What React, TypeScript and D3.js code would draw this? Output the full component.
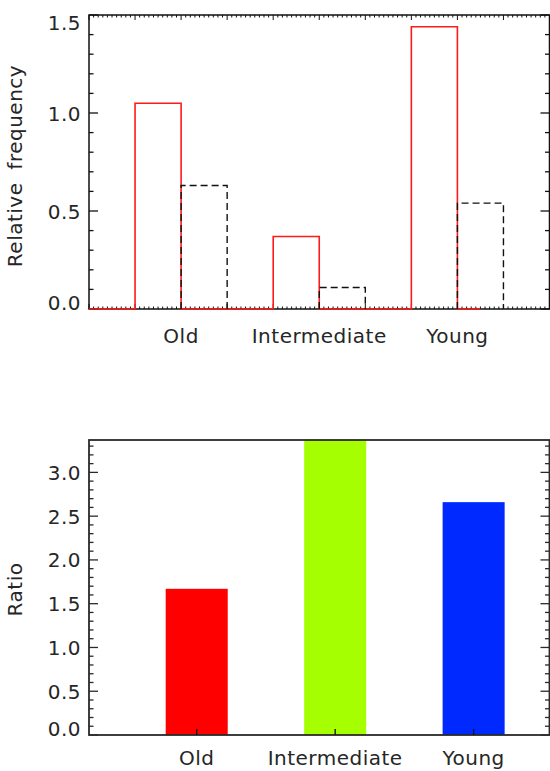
import React from 'react';
import * as d3 from 'd3';

// Age classes and where their labels sit on the histogram axis
const CATEGORIES = ['Old', 'Intermediate', 'Young'];
const CATEGORY_EDGES = [2, 5, 8];

// Histogram bins (unit width) and relative frequencies of the two samples
const BIN_STARTS = [0, 1, 2, 3, 4, 5, 6, 7, 8];
const RED_FREQ = [0, 1.05, 0, 0, 0.37, 0, 0, 1.44, 0];
const BLACK_FREQ = [0, 0, 0.63, 0, 0, 0.11, 0, 0, 0.54];
const RED_END = 8.5;
const HIST_X_DOMAIN = [0, 10];
const FREQ_TICKS = [0, 0.5, 1.0, 1.5];

// Ratio per age class
const RATIO = [1.67, 3.37, 2.66];
const RATIO_COLORS = ['#ff0000', '#a6ff00', '#0029ff'];
const RATIO_TICKS = [0, 0.5, 1.0, 1.5, 2.0, 2.5, 3.0];

const W = 550;
const H = 771;
const FONT = '"DejaVu Sans", sans-serif';
const TXT = '#262626';

const fmt = d3.format('.1f');

function YTicks({ y, ticks, minorStep, left, right, top, bottom, color, width }) {
  const [d0, d1] = y.domain();
  const minors = d3.range(Math.ceil(d0 / minorStep - 1e-6), Math.floor(d1 / minorStep + 1e-6) + 1)
    .map((k) => k * minorStep)
    .filter((v) => !ticks.some((t) => Math.abs(t - v) < 1e-6));
  const labelY = (v) => Math.min(Math.max(y(v), top + 7), bottom - 6.5) + 7.5;
  return (
    <g>
      {minors.map((v) => (
        <g key={'m' + v}>
          <line x1={left} x2={left + 4.5} y1={y(v)} y2={y(v)} stroke={color} strokeWidth={width} />
          <line x1={right} x2={right - 4.5} y1={y(v)} y2={y(v)} stroke={color} strokeWidth={width} />
        </g>
      ))}
      {ticks.map((v) => (
        <g key={'M' + v}>
          <line x1={left} x2={left + 9} y1={y(v)} y2={y(v)} stroke={color} strokeWidth={width} />
          <line x1={right} x2={right - 9} y1={y(v)} y2={y(v)} stroke={color} strokeWidth={width} />
          <text x={81} y={labelY(v)} textAnchor="end" fontSize={20} fontFamily={FONT} fill={TXT} letterSpacing={0.5}>
            {fmt(v)}
          </text>
        </g>
      ))}
    </g>
  );
}

function Histogram() {
  const left = 89, right = 549.5, top = 15, bottom = 309;
  const x = d3.scaleLinear().domain(HIST_X_DOMAIN).range([left, right]);
  const y = d3.scaleLinear().domain([0, 1.5]).range([bottom, top]);

  const redPts = BIN_STARTS.map((b, i) => [b, RED_FREQ[i]]).concat([[RED_END, 0]]);
  const redLine = d3.line().x((d) => x(d[0])).y((d) => y(d[1])).curve(d3.curveStepAfter);

  const minorX = d3.range(HIST_X_DOMAIN[0] * 10, HIST_X_DOMAIN[1] * 10 + 1).map((k) => k / 10);

  return (
    <g>
      {/* frame */}
      <rect x={left} y={top} width={right - left} height={bottom - top} fill="none" stroke="#111" strokeWidth={1.5} />
      {/* x ticks top and bottom */}
      {minorX.map((v) => {
        const major = Math.abs(v - Math.round(v)) < 1e-6;
        const len = major ? 5 : 2.5;
        return (
          <g key={'x' + v}>
            <line x1={x(v)} x2={x(v)} y1={top} y2={top + len} stroke="#111" strokeWidth={1} />
            <line x1={x(v)} x2={x(v)} y1={bottom} y2={bottom - len} stroke="#111" strokeWidth={1} />
          </g>
        );
      })}
      <YTicks y={y} ticks={FREQ_TICKS} minorStep={0.1} left={left} right={right} top={top} bottom={bottom} color="#111" width={1.3} />

      {/* red sample histogram */}
      <path d={redLine(redPts)} fill="none" stroke="#ff1a1a" strokeWidth={1.6} />
      {/* black sample histogram, dashed */}
      {BIN_STARTS.map((b, i) =>
        BLACK_FREQ[i] > 0 ? (
          <path
            key={'b' + i}
            d={`M${x(b)},${y(0)}V${y(BLACK_FREQ[i])}H${x(b + 1)}V${y(0)}`}
            fill="none"
            stroke="#111"
            strokeWidth={1.4}
            strokeDasharray="7,4"
          />
        ) : null
      )}

      {CATEGORIES.map((c, i) => (
        <text key={c} x={x(CATEGORY_EDGES[i])} y={343} textAnchor="middle" fontSize={20} fontFamily={FONT} fill={TXT} letterSpacing={0.5}>
          {c}
        </text>
      ))}
      <text
        transform={`translate(22,${(top + bottom) / 2 + 4}) rotate(-90)`}
        textAnchor="middle"
        fontSize={20}
        fontFamily={FONT}
        fill={TXT}
        letterSpacing={0.5}
        wordSpacing={6}
      >
        Relative frequency
      </text>
    </g>
  );
}

function RatioBars() {
  const left = 89, right = 549.5, top = 440, bottom = 735;
  const x = d3.scaleLinear().domain([-0.778, 2.548]).range([left, right]);
  const y = d3.scaleLinear().domain([0, d3.max(RATIO)]).range([bottom, top]);
  const halfW = 0.224;

  return (
    <g>
      {RATIO.map((v, i) => (
        <rect
          key={i}
          x={x(i - halfW)}
          y={y(v)}
          width={x(i + halfW) - x(i - halfW)}
          height={y(0) - y(v)}
          fill={RATIO_COLORS[i]}
        />
      ))}
      <rect x={left} y={top} width={right - left} height={bottom - top} fill="none" stroke="#2a2a2a" strokeWidth={1.8} />
      <YTicks y={y} ticks={RATIO_TICKS} minorStep={0.1} left={left} right={right} top={top} bottom={bottom} color="#2a2a2a" width={1.3} />
      {CATEGORIES.map((c, i) => (
        <g key={c}>
          <line x1={x(i)} x2={x(i)} y1={bottom} y2={bottom - 6} stroke="#111" strokeWidth={1.3} />
          <text x={x(i)} y={765} textAnchor="middle" fontSize={20} fontFamily={FONT} fill={TXT} letterSpacing={0.5}>
            {c}
          </text>
        </g>
      ))}
      <text
        transform={`translate(22,${(top + bottom) / 2 + 2}) rotate(-90)`}
        textAnchor="middle"
        fontSize={20}
        fontFamily={FONT}
        fill={TXT}
        letterSpacing={0.5}
      >
        Ratio
      </text>
    </g>
  );
}

export default function App() {
  return (
    <svg
      width={W}
      height={H}
      viewBox={`0 0 ${W} ${H}`}
      style={{ position: 'absolute', left: 0, top: 0, background: '#fff' }}
    >
      <rect width={W} height={H} fill="#fff" />
      <Histogram />
      <RatioBars />
    </svg>
  );
}
